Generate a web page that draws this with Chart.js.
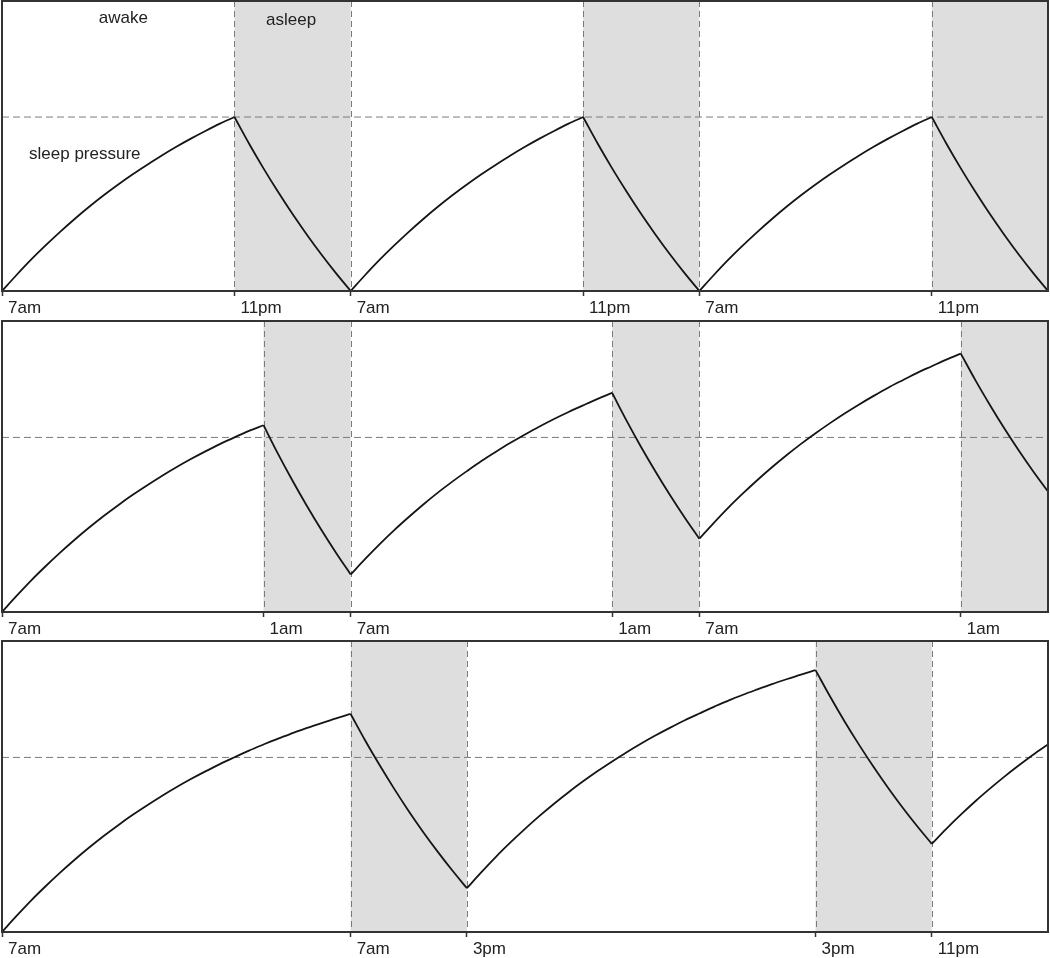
<!DOCTYPE html>
<html>
<head>
<meta charset="utf-8">
<script src="https://cdn.jsdelivr.net/npm/chart.js@4/dist/chart.umd.min.js"></script>
<style>
  body { margin: 0; background: #fff; }
  canvas { position: absolute; left: 0; }
</style>
</head>
<body>
<canvas id="c1" width="1050" height="320" style="top:0px"></canvas>
<canvas id="c2" width="1050" height="320" style="top:320px"></canvas>
<canvas id="c3" width="1050" height="318" style="top:640px"></canvas>
<script>
// hours since 7am of day one, one value per hour (0..72)
let hours = [];
for (let h = 0; h <= 72; h++) hours.push(h);

// sleep pressure, threshold = 1
const p1Pressure = [
  0, 0.092, 0.180, 0.262, 0.340, 0.414, 0.484, 0.550, 0.612, 0.671, 0.726, 0.779, 0.829, 0.876, 0.920, 0.962, 1.000,
  0.848, 0.705, 0.570, 0.442, 0.322, 0.208, 0.101, 0.000,
  0.092, 0.180, 0.262, 0.340, 0.414, 0.484, 0.550, 0.612, 0.671, 0.726, 0.779, 0.829, 0.876, 0.920, 0.962, 1.000,
  0.848, 0.705, 0.570, 0.442, 0.322, 0.208, 0.101, 0.000,
  0.092, 0.180, 0.262, 0.340, 0.414, 0.484, 0.550, 0.612, 0.671, 0.726, 0.779, 0.829, 0.876, 0.920, 0.962, 1.000,
  0.848, 0.705, 0.570, 0.442, 0.322, 0.208, 0.101, 0.000
];
const p2Pressure = [
  0, 0.092, 0.180, 0.262, 0.340, 0.414, 0.484, 0.550, 0.612, 0.671, 0.726, 0.779, 0.829, 0.876, 0.920, 0.962, 1.000, 1.038, 1.070,
  0.906, 0.752, 0.606, 0.468, 0.338, 0.215,
  0.304, 0.389, 0.469, 0.544, 0.616, 0.684, 0.747, 0.807, 0.865, 0.918, 0.969, 1.017, 1.063, 1.106, 1.146, 1.184, 1.221, 1.255,
  1.095, 0.944, 0.802, 0.667, 0.540, 0.420,
  0.511, 0.598, 0.679, 0.756, 0.829, 0.898, 0.963, 1.024, 1.082, 1.137, 1.189, 1.238, 1.285, 1.328, 1.370, 1.408, 1.446, 1.480,
  1.328, 1.186, 1.051, 0.924, 0.804, 0.690
];
const p3Pressure = [
  0, 0.092, 0.180, 0.262, 0.340, 0.414, 0.484, 0.550, 0.612, 0.671, 0.726, 0.779, 0.829, 0.876, 0.920, 0.962, 1.001,
  1.039, 1.074, 1.108, 1.139, 1.169, 1.197, 1.224, 1.249,
  1.097, 0.955, 0.820, 0.692, 0.572, 0.459, 0.352, 0.251,
  0.343, 0.431, 0.513, 0.591, 0.665, 0.735, 0.801, 0.863, 0.922, 0.977, 1.030, 1.080, 1.127, 1.171, 1.213, 1.252,
  1.290, 1.325, 1.359, 1.390, 1.420, 1.448, 1.475, 1.500,
  1.349, 1.206, 1.072, 0.945, 0.825, 0.712, 0.606, 0.505,
  0.591, 0.672, 0.749, 0.821, 0.890, 0.955, 1.017, 1.074
];

// asleep periods [start, end] in hours
const p1Sleep = [[16, 24], [40, 48], [64, 72]];
const p2Sleep = [[18, 24], [42, 48], [66, 72]];
const p3Sleep = [[24, 32], [56, 64]];

const p1TickHours = [0, 16, 24, 40, 48, 64];
const p1TickLabels = ["7am", "11pm", "7am", "11pm", "7am", "11pm"];
const p2TickHours = [0, 18, 24, 42, 48, 66];
const p2TickLabels = ["7am", "1am", "7am", "1am", "7am", "1am"];
const p3TickHours = [0, 24, 32, 56, 64];
const p3TickLabels = ["7am", "7am", "3pm", "3pm", "11pm"];

const threshold = 1;
const yMax = 1.667;

const FONT = "Arial, 'Liberation Sans', sans-serif";

// text notes for the first panel (hour, level)
const p1Notes = [
  { text: "awake", x: 8.35, y: 1.54, align: "center" },
  { text: "asleep", x: 19.9, y: 1.53, align: "center" },
  { text: "sleep pressure", x: 1.86, y: 0.76, align: "left" }
];

const panelDecor = {
  id: "panelDecor",
  beforeDatasetsDraw(chart, args, opts) {
    const { ctx, chartArea: a, scales: { x } } = chart;
    ctx.save();
    ctx.fillStyle = "#dedede";
    opts.sleep.forEach(s => {
      const x0 = x.getPixelForValue(s[0]);
      const x1 = x.getPixelForValue(s[1]);
      ctx.fillRect(x0, a.top, x1 - x0, a.bottom - a.top);
    });
    ctx.strokeStyle = "#7a7a7a";
    ctx.lineWidth = 1;
    ctx.setLineDash([6, 4]);
    opts.sleep.forEach(s => {
      s.forEach(v => {
        if (v <= 0 || v >= 72) return;
        const px = Math.round(x.getPixelForValue(v)) + 0.5;
        ctx.beginPath();
        ctx.moveTo(px, a.top);
        ctx.lineTo(px, a.bottom);
        ctx.stroke();
      });
    });
    ctx.restore();
  },
  afterDraw(chart, args, opts) {
    const { ctx, chartArea: a, scales: { x, y } } = chart;
    ctx.save();
    ctx.fillStyle = "#222";
    ctx.font = "17px " + FONT;
    ctx.textBaseline = "alphabetic";
    (opts.notes || []).forEach(n => {
      ctx.textAlign = n.align;
      ctx.fillText(n.text, x.getPixelForValue(n.x), y.getPixelForValue(n.y));
    });
    ctx.strokeStyle = "#333";
    ctx.lineWidth = 2;
    ctx.strokeRect(a.left, a.top, a.right - a.left, a.bottom - a.top);
    ctx.restore();
  }
};

function makePanel(id, values, sleep, tickHours, tickLabels, notes, axisH) {
  // split the curve where awake/asleep switches so the peaks stay sharp
  let cuts = [0];
  sleep.forEach(s => s.forEach(v => { if (v > 0 && v < 72) cuts.push(v); }));
  cuts.push(72);
  cuts = [...new Set(cuts)].sort((a, b) => a - b);

  const datasets = [];
  for (let i = 0; i < cuts.length - 1; i++) {
    const pts = [];
    for (let h = cuts[i]; h <= cuts[i + 1]; h++) pts.push({ x: hours[h], y: values[h] });
    datasets.push({
      data: pts,
      borderColor: "#151515",
      borderWidth: 1.8,
      cubicInterpolationMode: "monotone",
      pointRadius: 0,
      fill: false
    });
  }
  datasets.push({
    data: [{ x: 0, y: threshold }, { x: 72, y: threshold }],
    borderColor: "#7a7a7a",
    borderWidth: 1,
    borderDash: [7, 4],
    pointRadius: 0,
    fill: false,
    order: 10
  });

  return new Chart(document.getElementById(id).getContext("2d"), {
    type: "line",
    data: { datasets: datasets },
    options: {
      responsive: false,
      animation: false,
      devicePixelRatio: 1,
      layout: { padding: { left: 1, right: 2, top: 1, bottom: 0 } },
      plugins: {
        legend: { display: false },
        tooltip: { enabled: false },
        panelDecor: { sleep: sleep, notes: notes }
      },
      scales: {
        x: {
          type: "linear",
          min: 0,
          max: 72,
          afterBuildTicks: s => { s.ticks = tickHours.map(v => ({ value: v })); },
          afterFit: s => { s.height = axisH; },
          grid: { drawOnChartArea: false, drawTicks: true, tickLength: 5, tickColor: "#333", tickWidth: 1.5 },
          border: { display: false },
          ticks: {
            autoSkip: false,
            maxRotation: 0,
            align: "start",
            labelOffset: 6,
            padding: 2,
            color: "#222",
            font: { family: FONT, size: 17 },
            callback: (v, i) => tickLabels[i]
          }
        },
        y: { display: false, min: 0, max: yMax }
      }
    },
    plugins: [panelDecor]
  });
}

makePanel("c1", p1Pressure, p1Sleep, p1TickHours, p1TickLabels, p1Notes, 29);
makePanel("c2", p2Pressure, p2Sleep, p2TickHours, p2TickLabels, [], 28);
makePanel("c3", p3Pressure, p3Sleep, p3TickHours, p3TickLabels, [], 26);
</script>
</body>
</html>
